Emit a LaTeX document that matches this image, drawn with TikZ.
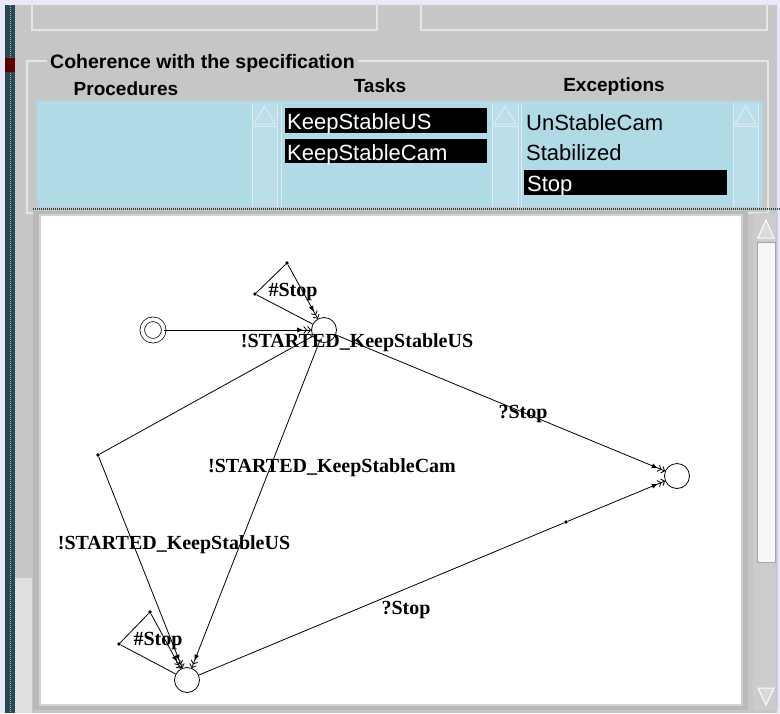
\documentclass[tikz,border=0pt]{standalone}
\usepackage{fontspec}
\setmainfont{Liberation Serif}
\newfontfamily\uifont{Liberation Sans}
\usetikzlibrary{arrows.meta}

\definecolor{lavender}{RGB}{232,232,250}
\definecolor{panelgray}{RGB}{198,198,198}
\definecolor{listblue}{RGB}{176,218,230}
\definecolor{troughblue}{RGB}{186,222,234}
\definecolor{edgelight}{RGB}{226,236,240}
\definecolor{darkteal}{RGB}{40,72,82}
\definecolor{framegray}{RGB}{150,150,150}

\begin{document}
\begin{tikzpicture}[x=1pt,y=-1pt,
  hdr/.style={font=\uifont\bfseries\fontsize{19}{22}\selectfont, anchor=base, inner sep=0pt},
  item/.style={font=\uifont\fontsize{22}{26}\selectfont, anchor=base west, inner sep=0pt},
  selitem/.style={item, text=white},
  lbl/.style={font=\bfseries\fontsize{20}{24}\selectfont, anchor=base, inner sep=0pt},
  state/.style={circle, draw, line width=0.8pt, minimum size=25pt, inner sep=0pt},
  initstate/.style={circle, draw, line width=0.7pt, double, double distance=3.8pt, minimum size=21.5pt, inner sep=0pt},
  bendpt/.style={circle, fill, minimum size=3.6pt, inner sep=0pt},
  edge/.style={line width=0.8pt},
  arr/.style={edge, -{Latex[length=6pt,width=5pt]Straight Barb[length=3pt,width=7pt]Straight Barb[length=3pt,width=7pt]}},
  scrollarrow/.style={draw=edgelight, line width=1pt, fill=troughblue},
]
\useasboundingbox (0,0) rectangle (780,713);

% window background and left border
\fill[lavender] (0,0) rectangle (780,713);
\fill[panelgray] (15,5) rectangle (777,713);
\fill[darkteal] (5,5) rectangle (15,713);
\draw[white!60!darkteal, dash pattern=on 1pt off 1pt, line width=1pt] (10,5) -- (10,713);
\fill[red!35!black] (5,58) rectangle (15,72);
\fill[gray!45] (15,215) rectangle (32,713);
\fill[gray!25] (15,578) rectangle (32,713);

% two boxes along the top edge
\draw[white!80!gray, line width=1.5pt] (32,-2) rectangle (377,30);
\draw[white!80!gray, line width=1.5pt] (421,-2) rectangle (767,30);

% group frame with title
\draw[white!80!gray, line width=1.5pt] (27,61) rectangle (768,213);
\node[hdr, fill=panelgray, inner xsep=3pt, anchor=base west] (title) at (47,68)
  {\fontsize{19.5}{22}\selectfont Coherence with the specification};

% column headings
\node[hdr] (hproc) at (126,95) {Procedures};
\node[hdr] (htask) at (380,92) {Tasks};
\node[hdr] (hexc)  at (614,91) {Exceptions};

% list boxes
\fill[listblue] (37,101) rectangle (763,207);
\foreach \a/\b in {252/277, 492/518, 733/758}{
  \fill[troughblue] (\a,103) rectangle (\b,207);
  \draw[edgelight, line width=1pt] (\a,103) -- (\a,207);
  \draw[edgelight, line width=1pt] (\b,103) -- (\b,207);
  \draw[scrollarrow] ({(\a+\b)/2},106) -- (\a+2,124) -- (\b-2,124) -- cycle;
  \draw[edgelight, line width=1pt] (\a,126) -- (\b,126);
}
\draw[edgelight, line width=1pt] (281,103) -- (281,207);
\draw[edgelight, line width=1pt] (521,103) -- (521,207);

% selected entries and list texts
\fill[black] (285,108) rectangle (487,133);
\fill[black] (285,139) rectangle (487,163);
\fill[black] (524,170) rectangle (727,195);
\node[selitem] (t1) at (287,129) {KeepStableUS};
\node[selitem] (t2) at (287,160) {KeepStableCam};
\node[item] (e1) at (526,130) {UnStableCam};
\node[item] (e2) at (526,160) {Stabilized};
\node[selitem] (e3) at (527,191) {Stop};

% dotted separator above the drawing area
\draw[darkteal, dash pattern=on 1pt off 1pt, line width=2.2pt] (33,209) -- (780,209);

% drawing area and its scrollbar
\fill[gray!55] (33,211) rectangle (748,710);
\fill[white] (40,215) rectangle (742,705);
\draw[gray!35, line width=1.2pt] (40,215) rectangle (742,705);
\fill[gray!40] (753,213) rectangle (778,710);
\fill[white!94!gray] (757,242) rectangle (775,562);
\draw[gray!70, line width=0.8pt] (757,242) rectangle (775,562);
\draw[draw=white, line width=1pt, fill=gray!30] (766,220) -- (758,238) -- (774,238) -- cycle;
\draw[draw=white, line width=1pt, fill=gray!30] (766,705) -- (758,688) -- (774,688) -- cycle;

% automaton states
\node[initstate] (s0) at (153,330) {};
\node[state] (A) at (324,330) {};
\node[state] (B) at (677,476) {};
\node[state] (C) at (187,680) {};

% bend points of the transitions
\node[bendpt] (ka) at (287,263) {};
\node[bendpt] (kb) at (255,294) {};
\node[bendpt] (kbend) at (98,455) {};
\node[bendpt] (km) at (566,522) {};
\node[bendpt] (kc) at (150,612) {};
\node[bendpt] (kd) at (119,644) {};

% transitions
\draw[arr] (s0) -- (A);
\draw[edge] (A) -- (kb) -- (ka);
\draw[arr] (ka) -- (A);
\draw[arr] (A) -- (B);
\draw[edge] (A) -- (kbend);
\draw[arr] (kbend) -- (C);
\draw[arr] (A) -- (C);
\draw[edge] (C) -- (km);
\draw[arr] (km) -- (B);
\draw[edge] (C) -- (kd) -- (kc);
\draw[arr] (kc) -- (C);

% transition labels
\node[lbl] (l0) at (357,347.5) {!STARTED\_KeepStableUS};
\node[lbl] (l1) at (293,296.5) {\#Stop};
\node[lbl] (l2) at (523,418.5) {?Stop};
\node[lbl] (l3) at (332,472.5) {!STARTED\_KeepStableCam};
\node[lbl] (l4) at (174,549.5) {!STARTED\_KeepStableUS};
\node[lbl] (l5) at (406,614.5) {?Stop};
\node[lbl] (l6) at (158,645.5) {\#Stop};
\end{tikzpicture}
\end{document}
